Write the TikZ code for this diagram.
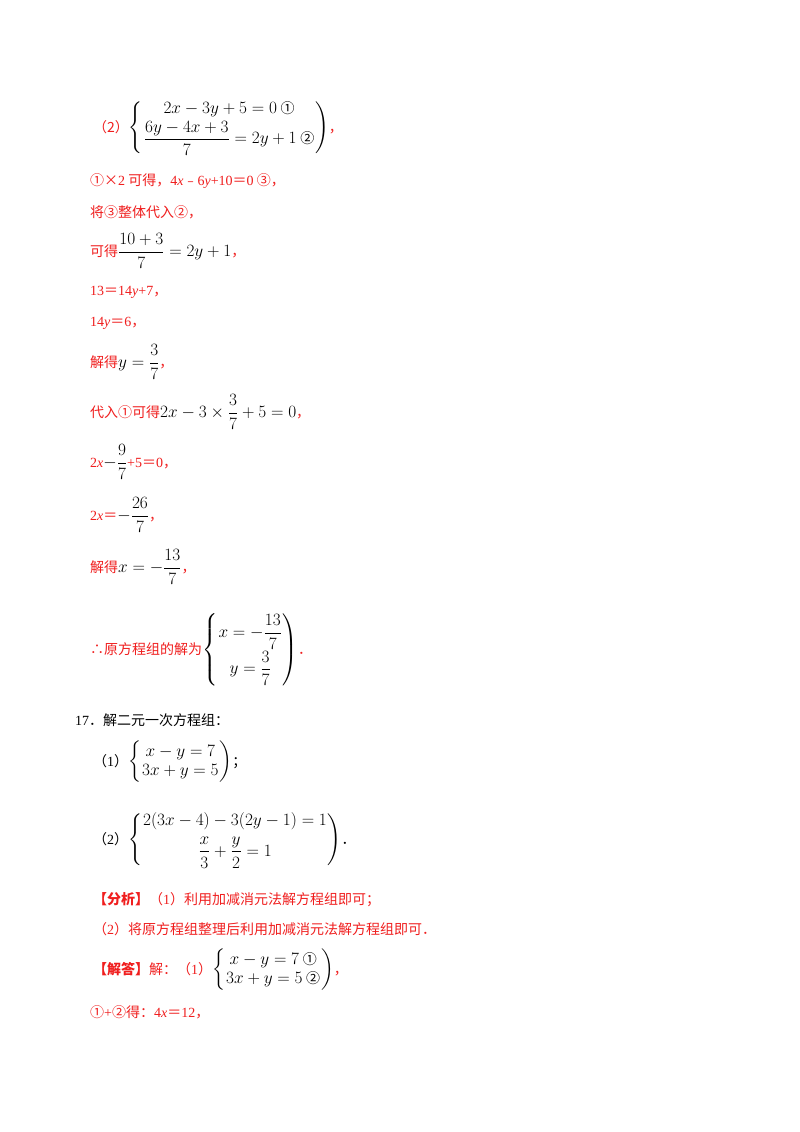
\documentclass[tikz,border=0pt]{standalone}
\usepackage{amsmath}
\usepackage{fontspec}
\setmainfont{Noto Sans CJK SC}
\newfontfamily\tm{Liberation Serif}
\definecolor{rd}{RGB}{240,30,30}
\newcommand{\cir}[1]{\mbox{\normalfont\fontsize{14}{17}\selectfont #1}}
\newcommand{\mm}[1]{\textcolor{black}{\fontsize{16}{19}\selectfont$\arraycolsep=1pt #1$}}
\begin{document}
\begin{tikzpicture}[x=1pt,y=-1pt,
  t/.style={anchor=west,inner sep=0pt,font=\fontsize{14}{17}\selectfont},
  r/.style={t,text=rd}]
\useasboundingbox[fill=white] (0,0) rectangle (800,1132);
\node[r] (a1) at (93,128) {（2）\mm{\left\{\begin{array}{c}2x-3y+5=0\ \cir{①}\\[2pt] \dfrac{6y-4x+3}{7}=2y+1\ \cir{②}\end{array}\right)}，};
\node[r] (a2) at (90,181) {①×{\tm 2} 可得，{\tm 4\textit{x}}﹣{\tm 6\textit{y}+10}＝{\tm 0} ③，};
\node[r] (a3) at (90,212) {将③整体代入②，};
\node[r] (a4) at (90,251) {可得\mm{\dfrac{10+3}{7}=2y+1}，};
\node[r] (a5) at (90,292) {{\tm 13}＝{\tm 14\textit{y}+7}，};
\node[r] (a6) at (90,323) {{\tm 14\textit{y}}＝{\tm 6}，};
\node[r] (a7) at (90,362) {解得\mm{y=\dfrac{3}{7}}，};
\node[r] (a8) at (90,412) {代入①可得\mm{2x-3\times\dfrac{3}{7}+5=0}，};
\node[r] (a9) at (90,462) {{\tm 2\textit{x}}\mm{-\dfrac{9}{7}}{\tm +5}＝{\tm 0}，};
\node[r] (a10) at (90,515) {{\tm 2\textit{x}}＝\mm{-\dfrac{26}{7}}，};
\node[r] (a11) at (90,567) {解得\mm{x=-\dfrac{13}{7}}，};
\node[r] (a12) at (90,650) {∴原方程组的解为\mm{\left\{\begin{array}{c}x=-\dfrac{13}{7}\\[8pt] y=\dfrac{3}{7}\end{array}\right)}．};
\node[t] (b1) at (75,720) {{\tm 17}．解二元一次方程组：};
\node[t] (b2) at (93,762) {（{\tm 1}）\mm{\left\{\begin{array}{c}x-y=7\\ 3x+y=5\end{array}\right)}；};
\node[t] (b3) at (93,840) {（{\tm 2}）\mm{\left\{\begin{array}{c}2(3x-4)-3(2y-1)=1\\[6pt] \dfrac{x}{3}+\dfrac{y}{2}=1\\[4pt]\end{array}\right)}．};
\node[r] (b4) at (93,900) {\textbf{【分析】}（{\tm 1}）利用加减消元法解方程组即可；};
\node[r] (b5) at (93,929) {（{\tm 2}）将原方程组整理后利用加减消元法解方程组即可．};
\node[r] (b6) at (93,970) {\textbf{【解答】}解：（{\tm 1}）\mm{\left\{\begin{array}{c}x-y=7\ \cir{①}\\ 3x+y=5\ \cir{②}\end{array}\right)}，};
\node[r] (b7) at (90,1012) {①{\tm +}②得：{\tm 4\textit{x}}＝{\tm 12}，};
\end{tikzpicture}
\end{document}
